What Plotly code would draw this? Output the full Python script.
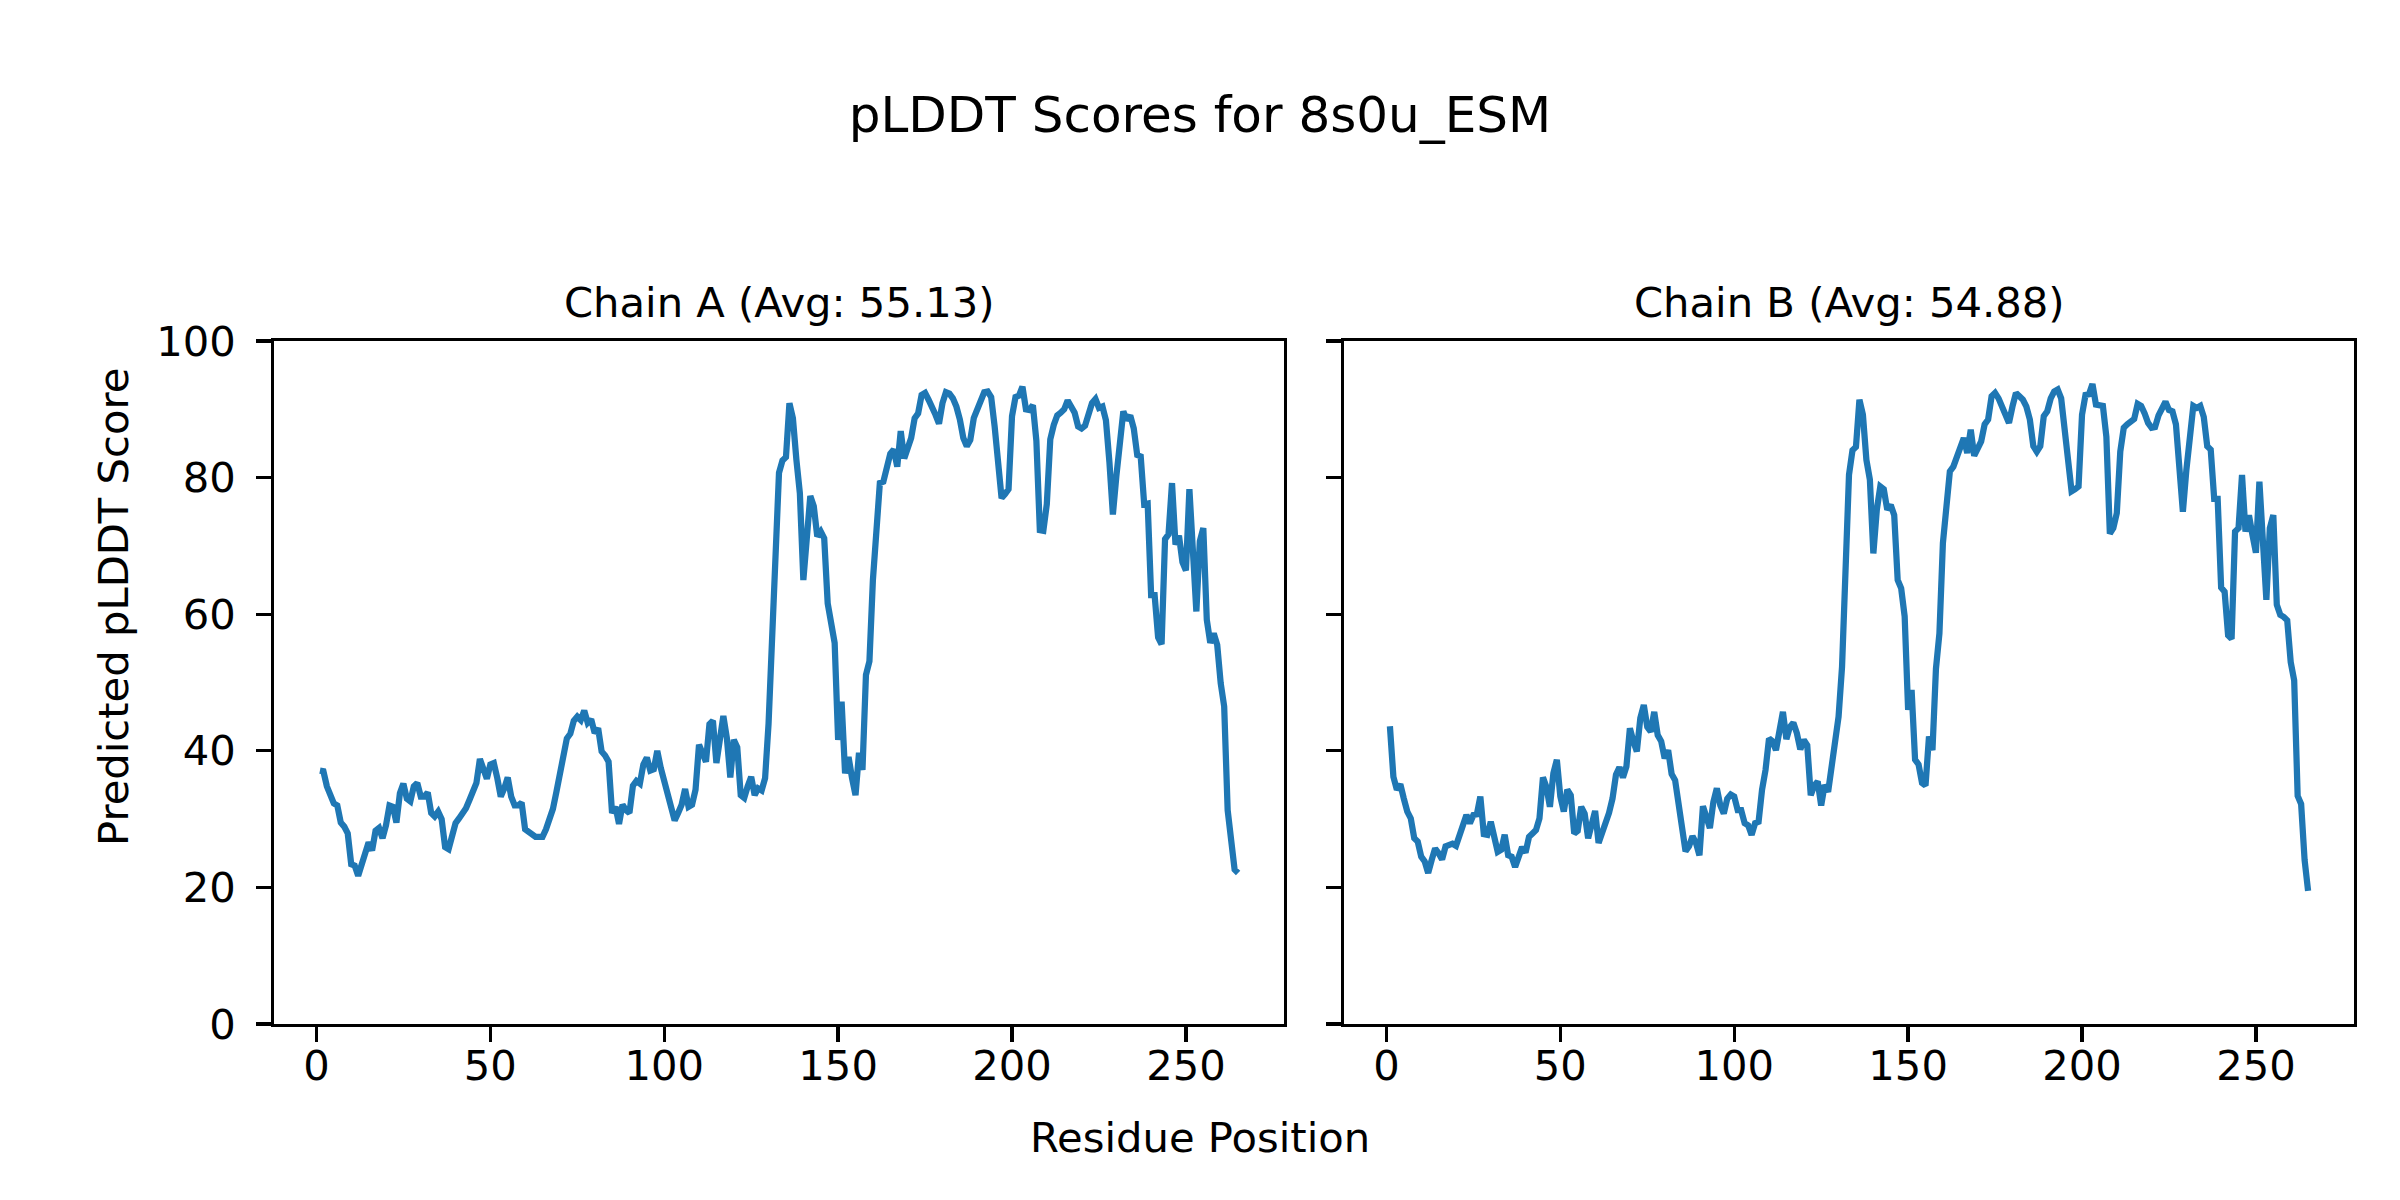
import plotly.graph_objects as go

# ---------------- data ----------------
residues = list(range(1, 266))

plddt_chain_a = [
    37.1, 37.0, 34.8, 33.5, 32.3, 32.0, 29.5, 28.9, 27.9, 23.4,
    23.2, 21.7, 23.5, 25.5, 26.6, 25.4, 28.3, 28.7, 27.2, 29.1,
    32.0, 31.8, 29.5, 33.8, 35.2, 33.0, 32.6, 34.8, 35.3, 33.3,
    33.3, 33.9, 30.9, 30.4, 31.1, 30.0, 25.9, 25.6, 27.9, 29.4,
    30.1, 30.8, 31.6, 32.8, 34.3, 35.3, 38.8, 37.0, 35.9, 38.0,
    38.2, 36.0, 33.3, 34.5, 36.1, 33.3, 32.0, 32.0, 32.4, 28.5,
    28.2, 27.9, 27.4, 27.4, 27.4, 28.5, 30.0, 31.5, 34.0, 36.6,
    39.5, 41.8, 42.5, 44.4, 45.0, 44.5, 45.9, 44.1, 44.6, 42.6,
    43.3, 39.9, 39.3, 38.4, 30.9, 31.8, 29.3, 32.1, 31.3, 30.9,
    34.9, 35.6, 35.2, 38.0, 39.0, 37.1, 37.3, 40.0, 37.5, 35.5,
    33.5, 31.6, 29.8, 30.9, 32.1, 34.4, 31.8, 32.1, 34.3, 40.9,
    39.9, 38.4, 43.9, 44.4, 38.2, 41.6, 45.1, 41.9, 36.1, 41.6,
    40.5, 33.5, 33.1, 34.8, 36.2, 33.5, 34.5, 34.2, 36.0, 44.0,
    55.0, 68.0, 80.7, 82.5, 83.0, 90.9, 88.7, 82.6, 77.7, 65.0,
    71.4, 77.3, 75.8, 71.4, 72.1, 71.1, 61.6, 59.2, 55.8, 41.6,
    47.2, 36.7, 39.1, 36.0, 33.5, 39.7, 37.2, 51.1, 53.1, 65.0,
    72.0, 79.2, 79.4, 81.5, 83.5, 84.1, 81.6, 86.8, 82.8, 84.3,
    85.8, 88.7, 89.4, 92.1, 92.4, 91.4, 90.0, 89.2, 87.9, 90.9,
    92.5, 92.3, 91.6, 90.4, 88.5, 85.8, 84.6, 85.5, 88.7, 90.0,
    91.2, 92.5, 92.6, 91.8, 87.5, 82.0, 77.0, 77.6, 78.3, 89.0,
    91.8, 92.0, 93.3, 90.0, 89.9, 90.6, 85.4, 72.3, 72.2, 76.1,
    85.6, 87.7, 89.1, 89.5, 90.0, 91.3, 90.4, 89.5, 87.5, 87.2,
    87.6, 89.7, 90.9, 91.5, 90.2, 90.4, 88.4, 82.3, 74.6, 80.2,
    85.6, 89.7, 88.4, 89.1, 87.2, 83.3, 83.1, 76.1, 76.2, 62.8,
    62.8, 56.6, 55.6, 71.0, 71.7, 79.2, 70.2, 71.5, 67.6, 66.4,
    78.3, 69.4, 60.4, 70.7, 72.6, 59.2, 55.8, 57.2, 55.5, 49.9,
    46.5, 31.3, 27.0, 22.6, 22.1,
]

plddt_chain_b = [
    43.6, 36.2, 34.3, 35.1, 33.0, 31.1, 30.1, 27.2, 26.7, 24.5,
    23.8, 22.1, 24.0, 25.7, 25.0, 24.1, 26.0, 26.3, 26.4, 26.1,
    27.4, 28.7, 30.6, 29.4, 30.6, 30.7, 33.3, 27.8, 27.7, 29.6,
    27.7, 25.2, 25.5, 27.7, 24.7, 24.5, 23.0, 24.2, 25.9, 25.1,
    27.4, 27.9, 28.4, 30.1, 36.1, 34.7, 31.8, 36.7, 38.7, 33.3,
    31.1, 34.3, 33.5, 27.9, 28.3, 31.8, 30.8, 27.2, 29.4, 31.2,
    26.5, 27.9, 29.4, 30.9, 33.0, 36.5, 37.6, 36.1, 37.7, 43.3,
    41.4, 39.9, 44.8, 46.7, 43.5, 42.8, 45.7, 42.3, 41.4, 38.9,
    40.1, 36.6, 35.7, 31.9, 28.2, 25.3, 26.0, 27.5, 26.5, 24.7,
    31.9, 30.1, 28.7, 32.5, 34.5, 32.0, 30.8, 33.0, 33.6, 33.3,
    31.3, 31.3, 29.4, 29.1, 27.7, 29.4, 29.6, 34.3, 37.2, 41.8,
    41.4, 40.1, 43.3, 45.7, 41.7, 43.5, 44.1, 42.6, 40.2, 41.6,
    40.8, 33.5, 34.9, 35.5, 32.0, 35.0, 34.0, 38.0, 41.0, 45.0,
    52.3, 67.0, 80.4, 84.0, 84.5, 91.4, 89.2, 82.6, 79.7, 68.9,
    75.3, 78.7, 78.3, 75.3, 76.0, 74.5, 65.0, 63.8, 59.7, 46.0,
    48.9, 38.7, 38.0, 35.3, 34.9, 42.1, 40.1, 52.0, 57.2, 70.4,
    75.3, 80.9, 81.6, 83.1, 85.0, 85.8, 83.6, 87.0, 83.2, 84.3,
    85.3, 87.8, 88.5, 91.9, 92.4, 91.6, 90.4, 89.4, 88.0, 90.4,
    92.4, 91.9, 91.4, 90.4, 88.5, 84.6, 83.8, 84.6, 89.0, 89.7,
    91.6, 92.6, 92.9, 91.6, 87.0, 82.6, 78.0, 78.3, 78.7, 89.2,
    92.1, 92.2, 93.7, 90.7, 90.5, 90.5, 86.0, 71.8, 72.6, 74.8,
    83.8, 87.3, 87.8, 88.2, 88.6, 90.8, 90.5, 89.4, 88.0, 87.3,
    87.4, 89.1, 90.2, 91.1, 89.9, 89.7, 87.8, 82.2, 75.0, 81.1,
    85.9, 90.5, 90.2, 90.5, 88.9, 84.6, 84.1, 76.9, 76.9, 63.9,
    63.3, 56.9, 56.4, 72.1, 72.6, 80.4, 72.1, 74.5, 71.6, 69.0,
    79.4, 71.0, 62.1, 72.6, 74.5, 61.4, 59.9, 59.6, 59.1, 53.0,
    50.3, 33.4, 32.2, 24.0, 19.5,
]

chain_titles = ["Chain A (Avg: 55.13)", "Chain B (Avg: 54.88)"]
x_tick_vals = [0, 50, 100, 150, 200, 250]
y_tick_vals = [0, 20, 40, 60, 80, 100]
fig_title = "pLDDT Scores for 8s0u_ESM"
x_label = "Residue Position"
y_label = "Predicted pLDDT Score"

# ---------------- layout constants ----------------
W, H = 2400, 1200
FONT = "DejaVu Sans"
TICK_FS = 41.7
TITLE_FS = 50
LINE_COLOR = "#1f77b4"
SPINE_W = 3.3

dom_a = [274 / W, 1284 / W]
dom_b = [1344 / W, 2354 / W]
dom_y = [1 - 1024 / H, 1 - 341 / H]

span = residues[-1] - residues[0]
x_range = [residues[0] - 0.05 * span, residues[-1] + 0.05 * span]

fig = go.Figure()
fig.add_trace(go.Scatter(x=residues, y=plddt_chain_a, mode="lines",
                         line=dict(color=LINE_COLOR, width=6.25),
                         xaxis="x", yaxis="y", showlegend=False))
fig.add_trace(go.Scatter(x=residues, y=plddt_chain_b, mode="lines",
                         line=dict(color=LINE_COLOR, width=6.25),
                         xaxis="x2", yaxis="y2", showlegend=False))

common_axis = dict(
    showline=True, mirror=True, linecolor="black", linewidth=SPINE_W,
    showgrid=False, zeroline=False, ticks="outside", ticklen=14.6,
    tickwidth=SPINE_W, tickcolor="black", automargin=False,
    tickfont=dict(family=FONT, size=TICK_FS, color="black"),
)

fig.update_layout(
    width=W, height=H,
    paper_bgcolor="white", plot_bgcolor="white",
    margin=dict(l=0, r=0, t=0, b=0, pad=0, autoexpand=False),
    font=dict(family=FONT, color="black"),
    title=dict(text=fig_title, x=0.5, xanchor="center", xref="paper",
               y=1 - 114 / H, yanchor="middle", yref="container",
               font=dict(family=FONT, size=TITLE_FS, color="black")),
    xaxis=dict(domain=dom_a, range=x_range, tickvals=x_tick_vals,
               anchor="y", ticklabelstandoff=-12, **common_axis),
    yaxis=dict(domain=dom_y, range=[0, 100], tickvals=y_tick_vals,
               anchor="x", ticklabelstandoff=12, **common_axis),
    xaxis2=dict(domain=dom_b, range=x_range, tickvals=x_tick_vals,
                anchor="y2", ticklabelstandoff=-12, **common_axis),
    yaxis2=dict(domain=dom_y, range=[0, 100], tickvals=y_tick_vals,
                anchor="x2", showticklabels=False, **common_axis),
)

annotations = []
for dom, txt in zip([dom_a, dom_b], chain_titles):
    annotations.append(dict(text=txt, x=(dom[0] + dom[1]) / 2, y=1 - 303 / H,
                            xref="paper", yref="paper", xanchor="center",
                            yanchor="middle", showarrow=False,
                            font=dict(family=FONT, size=TICK_FS, color="black")))
annotations.append(dict(text=x_label, x=0.5, y=1 - 1137 / H, xref="paper",
                        yref="paper", xanchor="center", yanchor="middle",
                        showarrow=False,
                        font=dict(family=FONT, size=TICK_FS, color="black")))
annotations.append(dict(text=y_label, x=113 / W, y=1 - 607 / H, xref="paper",
                        yref="paper", xanchor="center", yanchor="middle",
                        textangle=-90, showarrow=False,
                        font=dict(family=FONT, size=TICK_FS, color="black")))
fig.update_layout(annotations=annotations)

fig.write_html("out.html",
               config={"displayModeBar": False, "staticPlot": True},
               post_script="document.body.style.margin='0';"
                           "document.body.style.overflow='hidden';")
